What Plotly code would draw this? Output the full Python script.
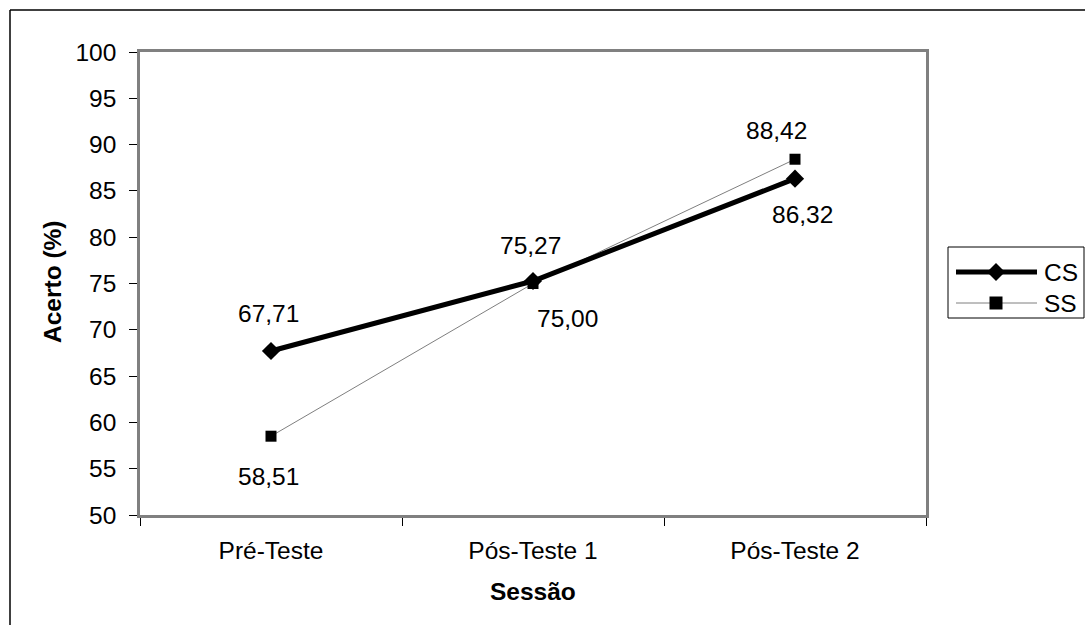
import plotly.graph_objects as go

# Dados: taxa de acerto (%) por sessão
categories = ["Pré-Teste", "Pós-Teste 1", "Pós-Teste 2"]
cs_values = [67.71, 75.27, 86.32]
ss_values = [58.51, 75.00, 88.42]
y_ticks = [50, 55, 60, 65, 70, 75, 80, 85, 90, 95, 100]

W, H = 1090, 625
L, R, T, B = 140, 164, 52, 110
FONT = "Arial, Liberation Sans, sans-serif"
FS = 24.5


def fmt(v):
    return f"{v:.2f}".replace(".", ",")


def px_x(px):
    return (px - L) / (W - L - R)


def px_y(py):
    return (H - B - py) / (H - T - B)


fig = go.Figure()

fig.add_trace(go.Scatter(
    x=categories, y=ss_values, name="SS", mode="lines+markers",
    line=dict(color="#7f7f7f", width=1),
    marker=dict(symbol="square", size=11, color="black"),
    showlegend=False,
))
fig.add_trace(go.Scatter(
    x=categories, y=cs_values, name="CS", mode="lines+markers",
    line=dict(color="black", width=5),
    marker=dict(symbol="diamond", size=14, color="black"),
    showlegend=False,
))

# rótulos de valor (deslocamento em pixels em relação ao ponto)
cs_shift = [(-3, 38), (-3, 36), (7, -36)]
ss_shift = [(-3, -40), (34, -35), (-19, 29)]
for vals, shifts in ((cs_values, cs_shift), (ss_values, ss_shift)):
    for cat, v, (dx, dy) in zip(categories, vals, shifts):
        fig.add_annotation(x=cat, y=v, text=fmt(v), showarrow=False,
                           xshift=dx, yshift=dy,
                           xanchor="center", yanchor="middle",
                           font=dict(family=FONT, size=FS, color="black"))

# títulos dos eixos
fig.add_annotation(x=0.5, y=px_y(591), xref="paper", yref="paper",
                   xanchor="center", yanchor="middle",
                   text="<b>Sessão</b>", showarrow=False,
                   font=dict(family=FONT, size=FS, color="black"))
fig.add_annotation(x=px_x(52), y=px_y(282), xref="paper", yref="paper",
                   xanchor="center", yanchor="middle",
                   text="<b>Acerto (%)</b>", showarrow=False, textangle=-90,
                   font=dict(family=FONT, size=FS, color="black"))

shapes = []
# moldura externa do gráfico
shapes.append(dict(type="line", xref="paper", yref="paper",
                   x0=px_x(10), x1=px_x(1085), y0=px_y(10), y1=px_y(10),
                   line=dict(color="black", width=1.5)))
shapes.append(dict(type="line", xref="paper", yref="paper",
                   x0=px_x(10), x1=px_x(10), y0=px_y(10), y1=px_y(640),
                   line=dict(color="black", width=1.5)))

# legenda
leg_x0, leg_x1, leg_y0, leg_y1 = 948, 1084, 247, 318
shapes.append(dict(type="rect", xref="paper", yref="paper",
                   x0=px_x(leg_x0), x1=px_x(leg_x1),
                   y0=px_y(leg_y0), y1=px_y(leg_y1),
                   line=dict(color="black", width=1), fillcolor="white"))
legend_rows = [("CS", 272, "black", 5, "diamond"),
               ("SS", 303, "#7f7f7f", 1, "square")]
for name, ry, lc, lw, sym in legend_rows:
    shapes.append(dict(type="line", xref="paper", yref="paper",
                       x0=px_x(956), x1=px_x(1037), y0=px_y(ry), y1=px_y(ry),
                       line=dict(color=lc, width=lw)))
    if sym == "diamond":
        path = "M9,0 L0,9 L-9,0 L0,-9 Z"
    else:
        path = "M-6.5,-6.5 L6.5,-6.5 L6.5,6.5 L-6.5,6.5 Z"
    shapes.append(dict(type="path", xref="paper", yref="paper",
                       xsizemode="pixel", ysizemode="pixel",
                       xanchor=px_x(996), yanchor=px_y(ry), path=path,
                       fillcolor="black", line=dict(color="black", width=0)))
    fig.add_annotation(x=px_x(1042), y=px_y(ry), xref="paper", yref="paper",
                       xanchor="left", yanchor="middle", height=26,
                       text=name, showarrow=False,
                       font=dict(family=FONT, size=FS, color="black"))

fig.update_layout(
    width=W, height=H,
    margin=dict(l=L, r=R, t=T, b=B, pad=0),
    paper_bgcolor="white", plot_bgcolor="white",
    shapes=shapes,
    font=dict(family=FONT, size=FS, color="black"),
)
fig.update_xaxes(
    type="category", range=[-0.5, 2.5], tickson="boundaries",
    ticks="outside", ticklen=8, tickcolor="black", tickwidth=1,
    showline=True, linecolor="#808080", linewidth=2.5, mirror=True,
    showgrid=False, zeroline=False, ticklabelstandoff=12,
    tickfont=dict(family=FONT, size=FS, color="black"),
)
fig.update_yaxes(
    range=[50, 100], tickvals=y_ticks,
    ticks="outside", ticklen=8, tickcolor="black", tickwidth=1,
    showline=True, linecolor="#808080", linewidth=2.5, mirror=True,
    showgrid=False, zeroline=False, ticklabelstandoff=8,
    tickfont=dict(family=FONT, size=FS, color="black"),
)

fig.write_html("out.html")
